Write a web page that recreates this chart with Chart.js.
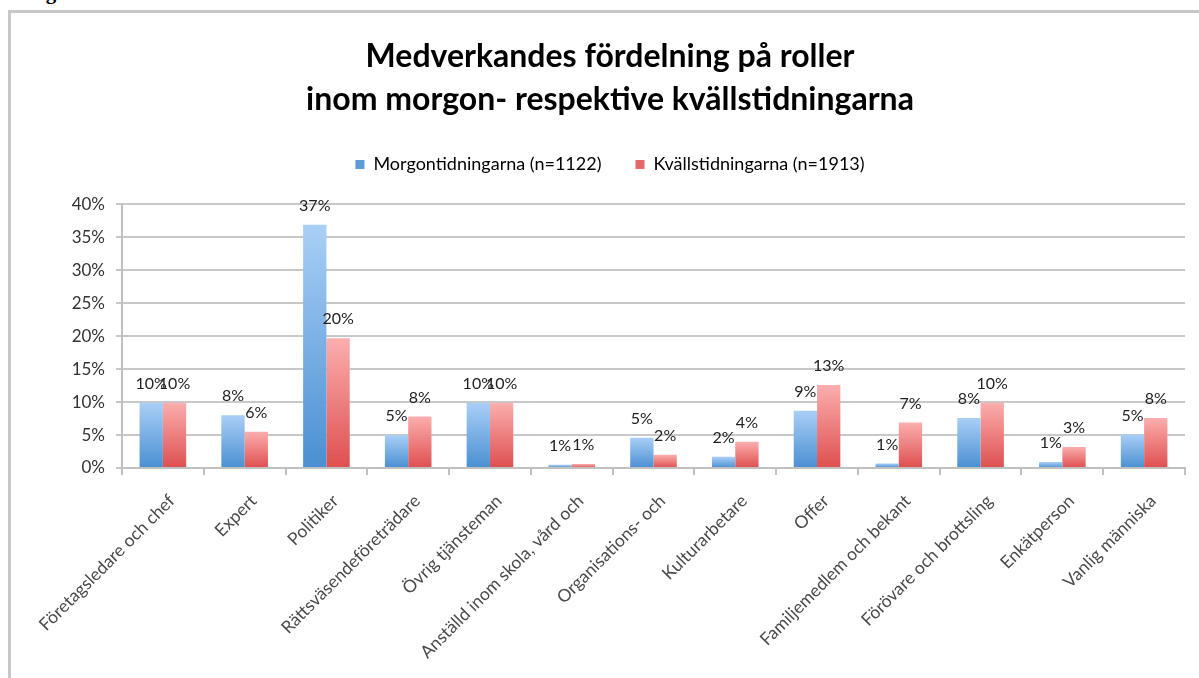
<!DOCTYPE html>
<html>
<head>
<meta charset="utf-8">
<script src="https://cdn.jsdelivr.net/npm/chart.js@4"></script>
<style>
  html, body { margin: 0; padding: 0; background: #fff; }
  #wrap { position: relative; width: 1199px; height: 678px; overflow: hidden; }
  #frame { position: absolute; left: 8px; top: 10px; width: 1300px; height: 800px;
           border-left: 3px solid #c8c8c8; border-top: 3px solid #c8c8c8; }
  #fig { position: absolute; left: 27px; top: -20px; font: bold 21px "Liberation Serif"; color: #000; }
  canvas { position: absolute; left: 0; top: 0; }
</style>
</head>
<body>
<div id="wrap">
  <div id="fig">Figur</div>
  <div id="frame"></div>
  <canvas id="chart" width="1199" height="678"></canvas>
</div>
<script>
// Categories (roles) and shares in percent
const roles = [
  'Företagsledare och chef', 'Expert', 'Politiker', 'Rättsväsendeföreträdare',
  'Övrig tjänsteman', 'Anställd inom skola, vård och', 'Organisations- och',
  'Kulturarbetare', 'Offer', 'Familjemedlem och bekant', 'Förövare och brottsling',
  'Enkätperson', 'Vanlig människa'
];
const morgon = [9.9, 8.0, 36.9, 5.0, 9.9, 0.5, 4.6, 1.7, 8.7, 0.7, 7.6, 0.9, 5.1];
const kvall = [9.9, 5.5, 19.7, 7.8, 9.9, 0.6, 2.0, 4.0, 12.6, 6.9, 9.9, 3.2, 7.6];
const yTicks = [0, 5, 10, 15, 20, 25, 30, 35, 40];

const FONT = 'Lato';

// vertical gradient per bar, light at top, darker at the base
function barGradient(light, dark) {
  return function (ctx) {
    const chart = ctx.chart;
    if (!chart.chartArea || ctx.type !== 'data') return dark;
    const y = chart.scales.y;
    const top = y.getPixelForValue(ctx.raw);
    const base = y.getPixelForValue(0);
    if (!isFinite(top) || top === base) return dark;
    const g = chart.ctx.createLinearGradient(0, top, 0, base);
    g.addColorStop(0, light);
    g.addColorStop(1, dark);
    return g;
  };
}

// value labels above each bar
const valueLabels = {
  id: 'valueLabels',
  afterDatasetsDraw(chart) {
    const ctx = chart.ctx;
    ctx.save();
    ctx.font = '16px ' + FONT;
    ctx.fillStyle = '#222';
    ctx.textAlign = 'center';
    ctx.textBaseline = 'middle';
    chart.data.datasets.forEach((ds, i) => {
      chart.getDatasetMeta(i).data.forEach((bar, j) => {
        ctx.fillText(Math.round(ds.data[j]) + '%', bar.x, bar.y - 19);
      });
    });
    ctx.restore();
  }
};

// slanted category labels, right end just past the category centre
const slantLabels = {
  id: 'slantLabels',
  afterDraw(chart) {
    const xs = chart.scales.x;
    const ctx = chart.ctx;
    ctx.save();
    ctx.font = '17.5px ' + FONT;
    ctx.fillStyle = '#4a4a4a';
    ctx.textAlign = 'right';
    ctx.textBaseline = 'middle';
    roles.forEach((name, i) => {
      ctx.save();
      ctx.translate(xs.getPixelForTick(i) + 9, xs.top + 30);
      ctx.rotate(-Math.PI / 4);
      ctx.fillText(name, 0, 0);
      ctx.restore();
    });
    ctx.restore();
  }
};

new Chart(document.getElementById('chart'), {
  type: 'bar',
  data: {
    labels: roles,
    datasets: [{
      label: 'Morgontidningarna (n=1122)',
      data: morgon,
      backgroundColor: barGradient('#a9cff6', '#4a8fd2'),
      borderWidth: 0,
      categoryPercentage: 0.57,
      barPercentage: 1.0
    }, {
      label: 'Kvällstidningarna (n=1913)',
      data: kvall,
      backgroundColor: barGradient('#fbaeae', '#df4f4f'),
      borderWidth: 0,
      categoryPercentage: 0.57,
      barPercentage: 1.0
    }]
  },
  options: {
    responsive: false,
    animation: false,
    layout: { padding: { left: 35, right: 14, top: 0, bottom: 0 } },
    plugins: {
      title: {
        display: true,
        text: ['Medverkandes fördelning på roller', 'inom morgon- respektive kvällstidningarna'],
        color: '#000',
        font: { family: FONT, size: 32, weight: 'bold', lineHeight: 1.35 },
        padding: { top: 35, bottom: 0 }
      },
      legend: {
        display: true,
        labels: {
          color: '#222',
          font: { family: FONT, size: 18 },
          boxWidth: 9,
          boxHeight: 9,
          padding: 34,
          generateLabels(chart) {
            return chart.data.datasets.map((ds, i) => ({
              text: ds.label,
              fillStyle: i === 0 ? '#5b9bd8' : '#e46a6a',
              strokeStyle: 'transparent',
              lineWidth: 0,
              datasetIndex: i
            }));
          }
        }
      },
      // empty spacer between legend and plot
      subtitle: {
        display: true,
        text: '',
        weight: 500,
        font: { size: 10, lineHeight: 1 },
        padding: { top: 11, bottom: 0 }
      },
      tooltip: { enabled: false }
    },
    scales: {
      x: {
        grid: { display: true, drawOnChartArea: false, offset: true, color: '#c0c0c0', lineWidth: 2, tickLength: 7 },
        border: { color: '#c0c0c0', width: 2 },
        ticks: { display: false },
        afterFit(scale) { scale.height = 210; }
      },
      y: {
        min: 0,
        max: 40,
        afterBuildTicks(scale) { scale.ticks = yTicks.map(v => ({ value: v })); },
        grid: { color: '#c8c8c8', lineWidth: 2, tickLength: 6 },
        border: { color: '#c0c0c0', width: 2 },
        ticks: {
          color: '#333',
          font: { family: FONT, size: 17 },
          padding: 11,
          callback: v => v + '%'
        },
        afterFit(scale) { scale.width = 87; }
      }
    }
  },
  plugins: [valueLabels, slantLabels]
});
</script>
</body>
</html>
